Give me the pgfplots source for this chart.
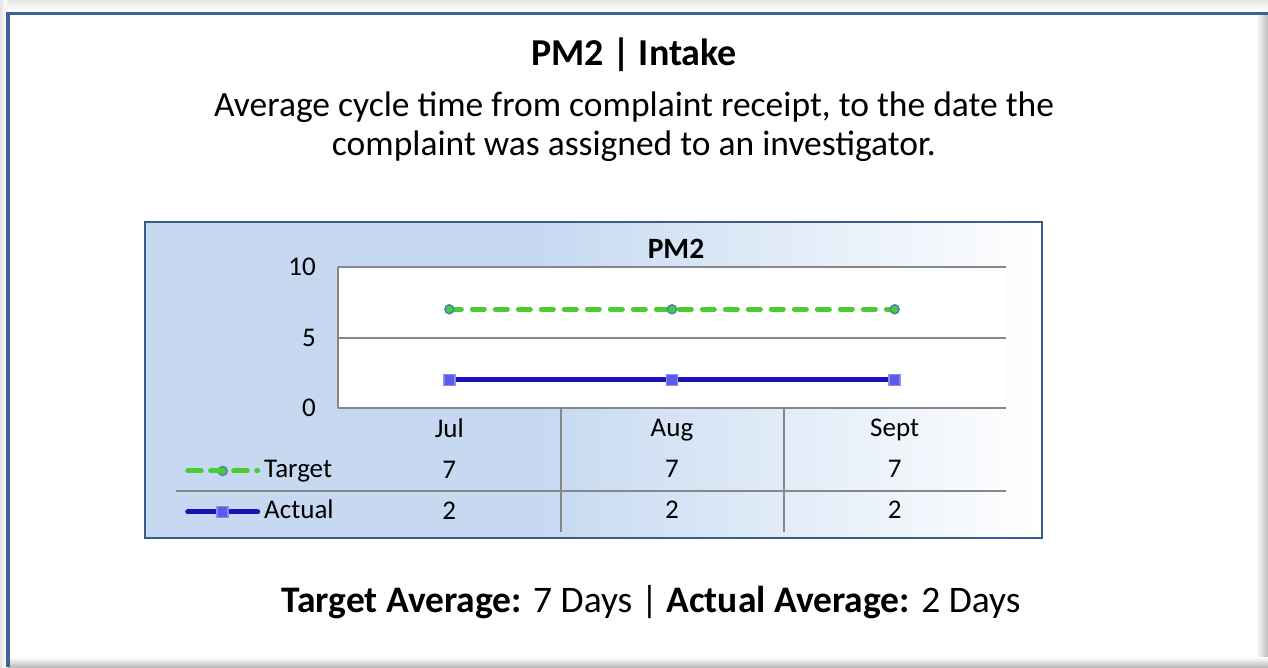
\documentclass[border=0pt]{standalone}
\usepackage{fontspec}
\setmainfont{Carlito}
\usepackage{pgfplots}
\pgfplotsset{compat=1.18}
\definecolor{framebl}{HTML}{3C6496}
\definecolor{boxbl}{HTML}{385D8A}
\definecolor{bgbl}{HTML}{C6D9F1}
\definecolor{gridg}{HTML}{878787}
\definecolor{tgreen}{HTML}{4CCC33}
\definecolor{tmark}{HTML}{4F81BD}
\definecolor{ablue}{HTML}{1A14B8}
\definecolor{asq}{HTML}{5A5AF0}
\definecolor{asqe}{HTML}{8C8CE0}
\definecolor{shad}{HTML}{BDBDBD}
\pgfdeclarehorizontalshading{chartbg}{100bp}{color(0bp)=(bgbl); color(25bp)=(bgbl); color(47bp)=(bgbl); color(75bp)=(white); color(100bp)=(white)}
\pgfplotsset{targetlegend/.style={legend image code/.code={%
  \draw[##1, solid] (1.5pt,0pt) -- (13.5pt,0pt);
  \draw[##1, solid] (25.5pt,0pt) -- (32.5pt,0pt);
  \draw[##1, solid] (48.5pt,0pt) -- (59.5pt,0pt);
  \path[##1, draw=none] plot coordinates {(35pt,0pt)};
  \path (0pt,0pt) -- (70pt,0pt);}}}
\begin{document}
\begin{tikzpicture}[x=1pt,y=1pt]
\useasboundingbox (0,0) rectangle (1268,667);
\fill[white] (0,0) rectangle (1268,667);
% shadows
\shade[top color=shad!40, bottom color=white] (0,656) rectangle (1268,667);
\shade[left color=shad!40, right color=white] (0,0) rectangle (7,667);
\shade[left color=white, right color=shad] (1256,0) rectangle (1268,654);
\shade[top color=white, bottom color=shad] (8,0) rectangle (1268,10);
% frame (top and left)
\draw[framebl, line width=3.5pt] (8,0) -- (8,653.5) -- (1268,653.5);
% titles
\node[font=\fontsize{38}{46}\selectfont\bfseries] at (634,612) {PM2 | Intake};
\node[font=\fontsize{35.5}{39}\selectfont, align=center] at (634,540.5) {Average cycle time from complaint receipt, to the date the\\complaint was assigned to an investigator.};
\node[font=\fontsize{37.5}{45}\selectfont] at (651,65) {\textbf{Target Average:} 7 Days | \textbf{Actual Average:} 2 Days};
% chart box
\shade[shading=chartbg] (145,129) rectangle (1042,445);
\draw[boxbl, line width=1.5pt] (145,129) rectangle (1042,445);
\node[font=\fontsize{29.5}{35}\selectfont\bfseries] at (676,418) {PM2};
\begin{axis}[
  at={(338pt,259pt)}, anchor=south west, scale only axis,
  width=668pt, height=141pt,
  xmin=-0.5, xmax=2.5, ymin=0, ymax=10,
  axis lines=left, axis line style={-, gridg, line width=2pt},
  xtick={0,1,2}, ytick={0,5,10}, major tick length=0pt,
  ymajorgrids, grid style={gridg, line width=2pt},
  axis background/.style={fill=white},
  tick label style={font=\fontsize{27}{41}\selectfont},
  /pgf/number format/assume math mode=true,
  xticklabels={{Jul\\7\\2},{Aug\\7\\2},{Sept\\7\\2}},
  xticklabel style={align=center, anchor=north, inner sep=0pt, yshift=-11pt},
  yticklabel style={anchor=east, inner sep=0pt, xshift=-22pt},
  clip=false,
  legend style={at={(axis description cs:-0.229,-0.592)}, anchor=west,
    draw=none, fill=none, inner sep=0pt, row sep=16pt,
    font=\fontsize{27}{32}\selectfont,
    nodes={inner sep=0pt, text height=19pt, text depth=6pt},
    /tikz/every odd column/.append style={column sep=4pt}},
  legend cell align=left,
  legend image code/.code={\draw[mark repeat=2,mark phase=2,#1] plot coordinates {(0pt,0pt)(35pt,0pt)(70pt,0pt)};},
]
\addplot[tgreen, line width=5pt, line cap=round, dash pattern=on 12pt off 11pt,
  mark=*, mark size=4.5pt, mark options={solid, fill=tgreen, draw=tmark, line width=1.5pt},
  targetlegend]
  coordinates {(0,7) (1,7) (2,7)};
\addlegendentry{Target}
\addplot[ablue, line width=5pt, line cap=round,
  mark=square*, mark size=5.5pt, mark options={solid, fill=asq, draw=asqe, line width=1.5pt}]
  coordinates {(0,2) (1,2) (2,2)};
\addlegendentry{Actual}
\end{axis}
% data table rules
\draw[gridg, line width=2pt] (176,176) -- (1006,176);
\draw[gridg, line width=2pt] (561,259) -- (561,135);
\draw[gridg, line width=2pt] (784,259) -- (784,135);
\end{tikzpicture}
\end{document}
